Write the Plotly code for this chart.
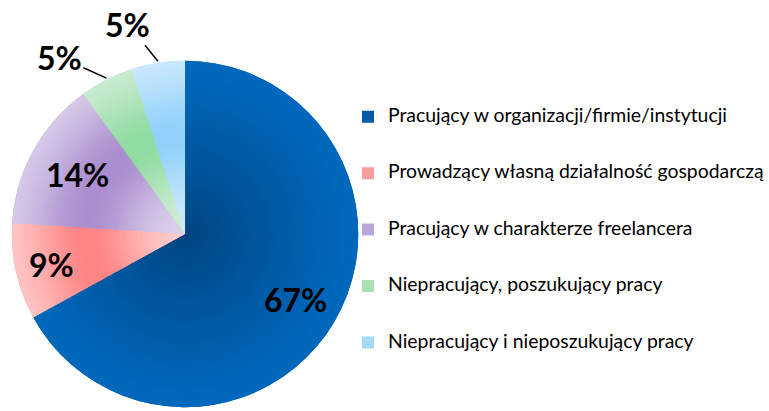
import math
import plotly.graph_objects as go

# ---- data ----
labels = [
    "Pracujący w organizacji/firmie/instytucji",
    "Prowadzący własną działalność gospodarczą",
    "Pracujący w charakterze freelancera",
    "Niepracujący, poszukujący pracy",
    "Niepracujący i nieposzukujący pracy",
]
values = [67, 9, 14, 5, 5]
pct_text = ["67%", "9%", "14%", "5%", "5%"]

# ---- styling ----
W, H = 769, 411
CX, CY, R = 187, 234, 175

legend_colors = ["#0058A6", "#FF9C9C", "#BBA6DA", "#A8E2B4", "#A6D9FA"]
# (edge/pale colour, dark colour) for each slice; first slice darkens toward centre
pale = [(0, 104, 188), (255, 208, 208), (222, 212, 236), (212, 238, 217), (210, 236, 253)]
dark = [(0, 68, 126), (255, 126, 126), (166, 136, 204), (138, 218, 156), (140, 207, 250)]


def mix(a, b, w):
    return "rgb(%d,%d,%d)" % tuple(round(a[i] + (b[i] - a[i]) * w) for i in range(3))


def ring_colors(t):
    cols = []
    for i in range(len(values)):
        if i == 0:
            w = (1 - t) ** 1.2
        else:
            w = 0.92 * math.exp(-((t - 0.58) / 0.32) ** 2)
        cols.append(mix(pale[i], dark[i], w))
    return cols


def dom(r):
    return dict(x=[(CX - r) / W, (CX + r) / W], y=[1 - (CY + r) / H, 1 - (CY - r) / H])


legend_labels = ["<br><span style='font-size:19.4px'>%s</span><br>" % l for l in labels]

fig = go.Figure()

# base pie (carries the legend)
fig.add_trace(go.Pie(
    labels=legend_labels, values=values, sort=False, direction="clockwise", rotation=0,
    marker=dict(colors=legend_colors, line=dict(width=0)),
    textinfo="none", hoverinfo="percent", domain=dom(R), showlegend=True,
))

# gradient rings (stacked, largest first)
N = 44
for k in range(N):
    t = 1 - k / N
    fig.add_trace(go.Pie(
        labels=legend_labels, values=values, sort=False, direction="clockwise", rotation=0,
        marker=dict(colors=ring_colors(t), line=dict(width=0)),
        textinfo="none", hoverinfo="skip", domain=dom(R * t), showlegend=False,
    ))

# ---- percentage labels computed from the data ----
total = sum(values)
cum = 0
inside_r = [0.74, 0.79, 0.71, None, None]
outside_off = [None, None, None, (-47, -21), (-30, -37)]
font = dict(family="Lato", size=32, color="black", weight="bold")
for i, v in enumerate(values):
    mid = (cum + v / 2) / total * 2 * math.pi
    cum += v
    sx, sy = math.sin(mid), -math.cos(mid)
    if inside_r[i] is not None:
        px = CX + R * inside_r[i] * sx
        py = CY + R * inside_r[i] * sy
        fig.add_annotation(x=px / W, y=1 - py / H, xref="paper", yref="paper",
                           xanchor="center", yanchor="middle",
                           text=pct_text[i], showarrow=False, font=font)
    else:
        px = CX + R * sx
        py = CY + R * sy
        ax, ay = outside_off[i]
        fig.add_annotation(x=px / W, y=1 - py / H, xref="paper", yref="paper",
                           xanchor="center", yanchor="middle",
                           text=pct_text[i], showarrow=True, arrowhead=0,
                           arrowwidth=1.5, arrowcolor="black", standoff=0,
                           ax=ax, ay=ay, font=font)

fig.update_layout(
    width=W, height=H,
    margin=dict(l=0, r=0, t=0, b=0),
    paper_bgcolor="white", plot_bgcolor="white",
    legend=dict(x=0.4574, y=1 - 230 / H, xanchor="left", yanchor="middle",
                font=dict(family="Lato", size=13.7, color="black"),
                traceorder="normal", bgcolor="rgba(0,0,0,0)"),
)

fig.write_html("out.html", config={"displayModeBar": False},
               post_script="document.body.style.margin='0';")
